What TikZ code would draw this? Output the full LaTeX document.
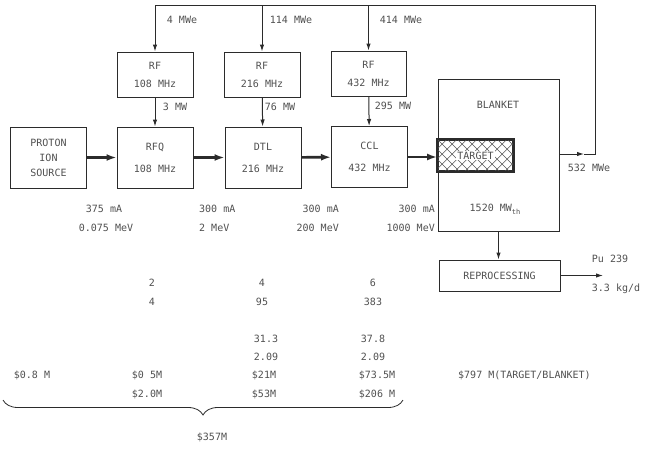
\documentclass[tikz,border=0pt]{standalone}
\usepackage{fontspec}
\setmonofont{DejaVu Sans Mono}
\usetikzlibrary{arrows.meta, positioning, calc, decorations.pathreplacing}
\definecolor{ink}{HTML}{2B2B2B}
\definecolor{txt}{HTML}{505050}
\tikzset{
  box/.style={draw=ink, line width=1pt, minimum width=76pt, minimum height=61pt,
    align=center, font=\ttfamily, text=txt, inner sep=0pt},
  rfbox/.style={box, minimum height=45pt},
  beam/.style={draw=ink, line width=2.6pt, -{Latex[length=10pt,width=7pt]}},
  feed/.style={draw=ink, line width=1pt, -{Latex[length=7pt,width=4.5pt]}},
  wire/.style={draw=ink, line width=1pt},
  lbl/.style={font=\ttfamily, text=txt, inner sep=0pt}
}
\begin{document}
\begin{tikzpicture}[x=1pt, y=-1pt]
  \useasboundingbox (0,0) rectangle (648,453);
  % accelerator chain
  \node[box] (src) at (48.5,157.5) {PROTON\\[3pt]ION\\[3pt]SOURCE};
  \node[box] (rfq) at (155,157.5) {RFQ\\[10pt]108 MHz};
  \node[box] (dtl) at (263,157.5) {DTL\\[10pt]216 MHz};
  \node[box] (ccl) at (369.5,157) {CCL\\[10pt]432 MHz};
  % rf power sources
  \node[rfbox] (rf108) at (155,74.5) {RF\\[6pt]108 MHz};
  \node[rfbox] (rf216) at (262,74.5) {RF\\[6pt]216 MHz};
  \node[rfbox, minimum width=75pt] (rf432) at (368.5,73.5) {RF\\[6pt]432 MHz};
  % blanket with target
  \node[box, minimum width=121pt, minimum height=152pt] (blanket) at (498.5,155) {};
  \node[lbl] (blanketlbl) at (498,105) {BLANKET};
  \node[lbl] (thermal) at (495,209) {1520 MW\raisebox{-3pt}{\scriptsize th}};
  \node[draw=ink, line width=1.8pt, minimum width=75pt, minimum height=31pt,
    inner sep=0pt] (target) at (475.5,155.5) {};
  \begin{scope}
    \clip (target.north west) rectangle (target.south east);
    \foreach \d in {-40,-30,...,80}{
      \draw[ink!80, line width=0.5pt] ($(target.north west)+(\d,0)$) -- ++(40,40);
      \draw[ink!80, line width=0.5pt] ($(target.north west)+(\d+40,0)$) -- ++(-40,40);
    }
  \end{scope}
  \draw[ink, line width=1.8pt] (target.north west) rectangle (target.south east);
  \node[lbl, fill=white, inner sep=1pt] (targetlbl) at (target) {TARGET};
  \node[box, minimum width=121pt, minimum height=31pt] (repro) at (499.5,275.5) {REPROCESSING};

  % beam line
  \draw[beam] (src) -- (rfq);
  \draw[beam] (rfq) -- (dtl);
  \draw[beam] (dtl) -- (ccl);
  \draw[beam] (ccl.east) -- (ccl.east -| target.west);

  % rf feeds
  \draw[feed] (rf108) -- (rfq);
  \draw[feed] (rf216) -- (dtl);
  \draw[feed] (rf432) -- (ccl);
  \node[lbl] (p108) at (175,107) {3 MW};
  \node[lbl] (p216) at (280,107) {76 MW};
  \node[lbl] (p432) at (393,106) {295 MW};

  % electric power loop
  \coordinate (loopM) at (584,154);
  \coordinate (loopR) at (595,154);
  \coordinate (loopT) at (595,5);
  \draw[feed] (blanket.east |- loopM) -- (loopM);
  \draw[wire] (loopM) -- (loopR) -- (loopT) -- (rf108.north |- loopT);
  \draw[feed] (rf108.north |- loopT) -- (rf108.north);
  \draw[feed] (rf216.north |- loopT) -- (rf216.north);
  \draw[feed] (rf432.north |- loopT) -- (rf432.north);
  \node[lbl] (e108) at (182,20) {4 MWe};
  \node[lbl] (e216) at (291,20) {114 MWe};
  \node[lbl] (e432) at (401,20) {414 MWe};
  \node[lbl] (eout) at (589,168) {532 MWe};

  % reprocessing output
  \draw[feed] (blanket.south) -- (blanket.south |- repro.north);
  \coordinate (puOut) at (603,275.5);
  \draw[feed] (repro.east) -- (puOut);
  \node[lbl] (pu) at (610,259) {Pu 239};
  \node[lbl] (rate) at (616,289) {3.3 kg/d};

  % beam parameters
  \node[lbl] (iSrc) at (104,209) {375 mA};
  \node[lbl] (eSrc) at (106,228) {0.075 MeV};
  \node[lbl, anchor=west] (iRfq) at (199,209) {300 mA};
  \node[lbl, anchor=west] (eRfq) at (199,228) {2 MeV};
  \node[lbl, anchor=east] (iDtl) at (339,209) {300 mA};
  \node[lbl, anchor=east] (eDtl) at (339,228) {200 MeV};
  \node[lbl, anchor=east] (iCcl) at (435,209) {300 mA};
  \node[lbl, anchor=east] (eCcl) at (435,228) {1000 MeV};

  % table of numbers
  \foreach \t/\x/\y [count=\i] in {2/152/283, 4/152/302, 4/262/283, 95/262/302,
      6/373/283, 383/373/302, 31.3/266/339, 2.09/266/357, 37.8/373/339,
      2.09/373/357, \$0.8 M/32/375, \$0 5M/147/375, \$2.0M/147/394,
      \$21M/264/375, \$53M/264/394, \$73.5M/377/375, \$206 M/377/394}
    \node[lbl] (tab\i) at (\x,\y) {\t};
  \node[lbl, anchor=west] (costTB) at (458,375) {\$797 M(TARGET/BLANKET)};

  % total
  \coordinate (braceL) at (3,400);
  \coordinate (braceR) at (403,400);
  \draw[ink, line width=0.8pt, decorate, decoration={brace, mirror, amplitude=15pt}]
    (braceL) -- (braceR);
  \node[lbl] (total) at (212,437) {\$357M};
\end{tikzpicture}
\end{document}
